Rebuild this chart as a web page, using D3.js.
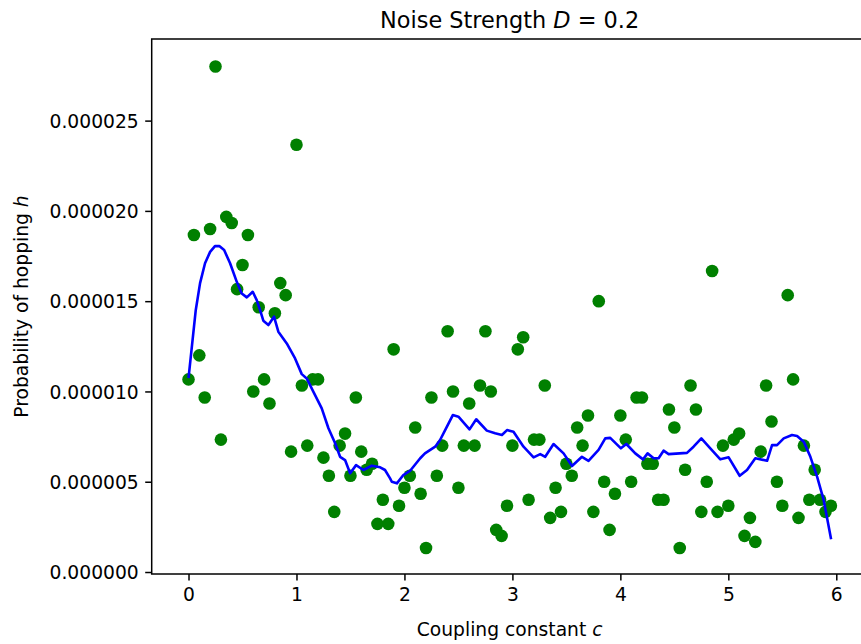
<!DOCTYPE html>
<html>
<head>
<meta charset="utf-8">
<script src="https://cdn.jsdelivr.net/npm/d3@7"></script>
<style>
  html, body { margin: 0; padding: 0; background: #fff; }
  text { font-family: "DejaVu Sans", sans-serif; fill: #000; }
</style>
</head>
<body>
<svg id="chart" width="861" height="644"></svg>
<script>
// ---- data (probability values in units of 1e-6) ----
const couplingC = [
  0.00,0.05,0.10,0.15,0.20,0.25,0.30,0.35,0.40,0.45,0.50,0.55,0.60,0.65,0.70,0.75,0.80,0.85,0.90,0.95,
  1.00,1.05,1.10,1.15,1.20,1.25,1.30,1.35,1.40,1.45,1.50,1.55,1.60,1.65,1.70,1.75,1.80,1.85,1.90,1.95,
  2.00,2.05,2.10,2.15,2.20,2.25,2.30,2.35,2.40,2.45,2.50,2.55,2.60,2.65,2.70,2.75,2.80,2.85,2.90,2.95,
  3.00,3.05,3.10,3.15,3.20,3.25,3.30,3.35,3.40,3.45,3.50,3.55,3.60,3.65,3.70,3.75,3.80,3.85,3.90,3.95,
  4.00,4.05,4.10,4.15,4.20,4.25,4.30,4.35,4.40,4.45,4.50,4.55,4.60,4.65,4.70,4.75,4.80,4.85,4.90,4.95,
  5.00,5.05,5.10,5.15,5.20,5.25,5.30,5.35,5.40,5.45,5.50,5.55,5.60,5.65,5.70,5.75,5.80,5.85,5.90,5.95
];
const hopProb = [
  10.667,18.667,12.0,9.667,19.0,28.0,7.333,19.667,19.333,15.667,17.0,18.667,10.0,14.667,10.667,9.333,14.333,16.0,15.333,6.667,
  23.667,10.333,7.0,10.667,10.667,6.333,5.333,3.333,7.0,7.667,5.333,9.667,6.667,5.667,6.0,2.667,4.0,2.667,12.333,3.667,
  4.667,5.333,8.0,4.333,1.333,9.667,5.333,7.0,13.333,10.0,4.667,7.0,9.333,7.0,10.333,13.333,10.0,2.333,2.0,3.667,
  7.0,12.333,13.0,4.0,7.333,7.333,10.333,3.0,4.667,3.333,6.0,5.333,8.0,7.0,8.667,3.333,15.0,5.0,2.333,4.333,
  8.667,7.333,5.0,9.667,9.667,6.0,6.0,4.0,4.0,9.0,8.0,1.333,5.667,10.333,9.0,3.333,5.0,16.667,3.333,7.0,
  3.667,7.333,7.667,2.0,3.0,1.667,6.667,10.333,8.333,5.0,3.667,15.333,10.667,3.0,7.0,4.0,5.667,4.0,3.333,3.667
];
// smoothed curve
const smoothC = [
  0,0.067,0.107,0.153,0.2,0.245,0.285,0.33,0.385,0.447,0.493,0.54,0.595,0.632,0.663,0.693,0.74,0.792,0.832,0.91,
  0.987,1.049,1.095,1.157,1.234,1.296,1.358,1.404,1.45,1.497,1.552,1.62,1.698,1.775,1.82,1.867,1.883,1.93,1.99,2.053,
  2.146,2.19,2.285,2.33,2.377,2.448,2.5,2.603,2.665,2.763,2.84,2.903,2.95,3.01,3.103,3.196,3.258,3.304,3.381,3.474,
  3.552,3.644,3.705,3.798,3.86,3.906,4.005,4.055,4.138,4.21,4.252,4.308,4.354,4.4,4.447,4.617,4.678,4.75,4.833,4.926,
  5.003,5.105,5.173,5.25,5.359,5.405,5.451,5.513,5.59,5.637,5.698,5.76,5.822,5.883,5.952
];
const smoothH = [
  10.74,14.5,16.0,17.1,17.73,18.05,18.05,17.83,17.1,16.07,15.43,15.21,15.52,15.06,14.5,13.92,13.68,14.14,13.31,12.66,
  11.83,10.96,10.72,9.98,9.06,7.96,7.13,6.38,6.2,5.47,5.92,5.65,5.89,5.8,5.65,5.19,5.0,4.91,5.37,5.61,
  6.3,6.57,6.94,7.31,7.86,8.69,8.6,7.9,8.46,7.83,7.68,7.59,7.86,7.77,6.94,6.35,6.53,6.38,7.09,6.57,
  5.87,6.38,6.16,6.76,7.4,7.43,6.85,7.09,6.57,6.24,6.57,6.3,6.3,6.72,6.53,6.6,6.94,7.4,6.85,6.24,
  6.35,5.33,5.65,6.3,6.16,7.03,7.03,7.4,7.59,7.53,7.22,6.38,5.28,3.99,1.81
];
const xTicks = [0,1,2,3,4,5,6];
const xTickLabels = ["0","1","2","3","4","5","6"];
const yTicks = [0,5,10,15,20,25];
const yTickLabels = ["0.000000","0.000005","0.000010","0.000015","0.000020","0.000025"];

// ---- layout ----
const svg = d3.select("#chart");
const L = 151.7, R = 867.6, T = 39, B = 574;
const x = d3.scaleLinear().domain([-0.341, 6.29]).range([L, R]);
const y = d3.scaleLinear().domain([-0.11, 29.52]).range([B, T]);

const fs = 18.7;

// scatter
svg.append("g").selectAll("circle")
  .data(couplingC.map((c, i) => [c, hopProb[i]]))
  .join("circle")
  .attr("cx", d => x(d[0]))
  .attr("cy", d => y(d[1]))
  .attr("r", 6.3)
  .attr("fill", "#008000");

// smoothed line
const line = d3.line().x(d => x(d[0])).y(d => y(d[1]));
svg.append("path")
  .datum(smoothC.map((c, i) => [c, smoothH[i]]))
  .attr("d", line)
  .attr("fill", "none")
  .attr("stroke", "#0000ff")
  .attr("stroke-width", 2.6)
  .attr("stroke-linejoin", "round")
  .attr("stroke-linecap", "butt");

// axes
const xAxis = d3.axisBottom(x).tickValues(xTicks).tickFormat((d, i) => xTickLabels[i])
  .tickSizeInner(6.5).tickSizeOuter(0).tickPadding(6.5);
const gx = svg.append("g").attr("transform", `translate(0,${B})`).call(xAxis);
const yAxis = d3.axisLeft(y).tickValues(yTicks).tickFormat((d, i) => yTickLabels[i])
  .tickSizeInner(6.5).tickSizeOuter(0).tickPadding(6.5);
const gy = svg.append("g").attr("transform", `translate(${L},0)`).call(yAxis);

[gx, gy].forEach(g => {
  g.select(".domain").remove();
  g.selectAll(".tick line").attr("stroke", "#000").attr("stroke-width", 1.5);
  g.selectAll(".tick text").attr("font-family", "DejaVu Sans").attr("font-size", fs).attr("fill", "#000");
});
gx.selectAll(".tick text").attr("dy", null).attr("y", 6.5 + 6.5).attr("dominant-baseline", "hanging");
gy.selectAll(".tick text").attr("dy", "0.35em");

// spines
svg.append("rect")
  .attr("x", L).attr("y", T).attr("width", R - L).attr("height", B - T)
  .attr("fill", "none").attr("stroke", "#000").attr("stroke-width", 1.5);

// title
const title = svg.append("text")
  .attr("x", (L + R) / 2).attr("y", 28)
  .attr("text-anchor", "middle").attr("font-size", 22.4);
title.append("tspan").text("Noise Strength ");
title.append("tspan").attr("font-style", "italic").text("D");
title.append("tspan").text(" = 0.2");

// x label
const xl = svg.append("text")
  .attr("x", (L + R) / 2).attr("y", 636)
  .attr("text-anchor", "middle").attr("font-size", fs);
xl.append("tspan").text("Coupling constant ");
xl.append("tspan").attr("font-style", "italic").text("c");

// y label
const yl = svg.append("text")
  .attr("transform", `translate(28,${(T + B) / 2}) rotate(-90)`)
  .attr("text-anchor", "middle").attr("font-size", fs);
yl.append("tspan").text("Probability of hopping ");
yl.append("tspan").attr("font-style", "italic").text("h");
</script>
</body>
</html>
